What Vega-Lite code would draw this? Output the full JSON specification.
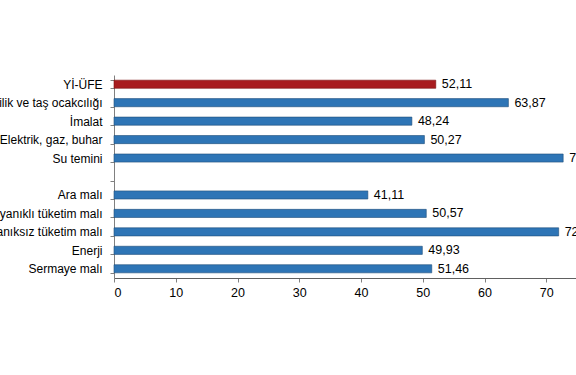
{
  "$schema": "https://vega.github.io/schema/vega-lite/v6.json",
  "autosize": {"type": "none"},
  "padding": {"left": 114, "top": 75, "right": 0, "bottom": 97},
  "width": 494,
  "height": 203,
  "background": "white",
  "config": {
    "view": {"stroke": null},
    "font": "Liberation Sans",
    "locale": {"number": {"decimal": ",", "thousands": ".", "grouping": [3], "currency": ["", ""]}}
  },
  "data": {"values": [
    {"kategori": "Yİ-ÜFE", "deger": 52.11, "grup": "genel"},
    {"kategori": "Madencilik ve taş ocakcılığı", "deger": 63.87, "grup": "alt"},
    {"kategori": "İmalat", "deger": 48.24, "grup": "alt"},
    {"kategori": "Elektrik, gaz, buhar", "deger": 50.27, "grup": "alt"},
    {"kategori": "Su temini", "deger": 72.74, "grup": "alt"},
    {"kategori": "Ara malı", "deger": 41.11, "grup": "alt"},
    {"kategori": "Dayanıklı tüketim malı", "deger": 50.57, "grup": "alt"},
    {"kategori": "Dayanıksız tüketim malı", "deger": 72.01, "grup": "alt"},
    {"kategori": "Enerji", "deger": 49.93, "grup": "alt"},
    {"kategori": "Sermaye malı", "deger": 51.46, "grup": "alt"}
  ]},
  "encoding": {
    "y": {
      "field": "kategori", "type": "nominal",
      "scale": {
        "domain": ["Yİ-ÜFE", "Madencilik ve taş ocakcılığı", "İmalat", "Elektrik, gaz, buhar", "Su temini", " ", "Ara malı", "Dayanıklı tüketim malı", "Dayanıksız tüketim malı", "Enerji", "Sermaye malı"],
        "paddingInner": 0.56, "paddingOuter": 0.28
      },
      "axis": {
        "title": null, "tickBand": "extent", "tickSize": 4, "tickColor": "#808080",
        "domainColor": "#808080", "labelFontSize": 12, "labelColor": "#000000",
        "labelPadding": 8, "labelLimit": 300
      }
    },
    "x": {
      "field": "deger", "type": "quantitative",
      "scale": {"domain": [0, 80], "nice": false},
      "axis": {
        "title": null, "values": [0, 10, 20, 30, 40, 50, 60, 70, 80], "grid": false,
        "tickSize": 4, "tickColor": "#808080", "domainColor": "#606060",
        "labelFontSize": 12.5, "labelColor": "#000000", "labelPadding": 4, "format": "d"
      }
    }
  },
  "layer": [
    {
      "mark": {"type": "bar", "strokeWidth": 0.6},
      "encoding": {
        "color": {"field": "grup", "type": "nominal", "scale": {"domain": ["genel", "alt"], "range": ["#A81C1F", "#2E75B6"]}, "legend": null},
        "stroke": {"field": "grup", "type": "nominal", "scale": {"domain": ["genel", "alt"], "range": ["#7A1010", "#1F4E79"]}, "legend": null}
      }
    },
    {
      "mark": {"type": "text", "align": "left", "dx": 6, "fontSize": 12.5, "color": "#000000"},
      "encoding": {"text": {"field": "deger", "type": "quantitative", "format": ".2f"}}
    }
  ]
}
